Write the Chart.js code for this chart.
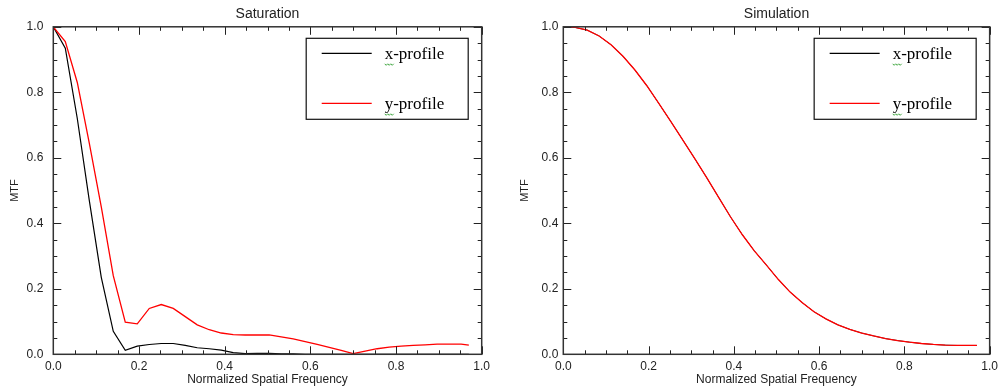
<!DOCTYPE html>
<html>
<head>
<meta charset="utf-8">
<script src="https://cdn.jsdelivr.net/npm/chart.js@4.4.1/dist/chart.umd.min.js"></script>
<style>
  html, body { margin: 0; padding: 0; background: #fff; }
  #wrap { position: relative; width: 1003px; height: 390px; }
  canvas { position: absolute; top: 0; }
  #satCanvas { left: 0; }
  #simCanvas { left: 500px; }
</style>
</head>
<body>
<div id="wrap">
  <canvas id="satCanvas" width="500" height="390"></canvas>
  <canvas id="simCanvas" width="503" height="390"></canvas>
</div>
<script>
// normalized spatial frequency (sample positions)
const freq = [0, 0.028, 0.056, 0.084, 0.112, 0.14, 0.168, 0.196, 0.224, 0.252,
  0.28, 0.308, 0.336, 0.364, 0.392, 0.42, 0.448, 0.476, 0.504, 0.532,
  0.56, 0.588, 0.616, 0.644, 0.672, 0.7, 0.728, 0.756, 0.784, 0.812,
  0.84, 0.868, 0.896, 0.924, 0.952, 0.97];

// Saturation panel
const satXProfile = [1.0, 0.935, 0.72, 0.47, 0.235, 0.07, 0.012, 0.025, 0.03, 0.033,
  0.033, 0.027, 0.02, 0.017, 0.013, 0.005, 0.002, 0.003, 0.003, 0.001,
  0.001, 0, 0, 0, 0, 0, 0, 0, 0, 0,
  0, 0, 0, 0, 0, 0];
const satYProfile = [1.0, 0.955, 0.83, 0.645, 0.45, 0.24, 0.098, 0.093, 0.14, 0.152,
  0.14, 0.115, 0.09, 0.075, 0.065, 0.06, 0.059, 0.059, 0.059, 0.053,
  0.047, 0.039, 0.03, 0.021, 0.012, 0.002, 0.01, 0.017, 0.022, 0.025,
  0.027, 0.029, 0.031, 0.031, 0.031, 0.028];

// Simulation panel (x-profile lies under the y-profile)
const simXProfile = [1.0, 0.998, 0.99, 0.972, 0.945, 0.91, 0.868, 0.82, 0.766, 0.711,
  0.655, 0.598, 0.54, 0.48, 0.42, 0.365, 0.316, 0.273, 0.229, 0.19,
  0.158, 0.13, 0.108, 0.09, 0.076, 0.065, 0.056, 0.048, 0.042, 0.037,
  0.033, 0.03, 0.028, 0.027, 0.027, 0.027];
const simYProfile = [1.0, 0.998, 0.99, 0.972, 0.945, 0.91, 0.868, 0.82, 0.766, 0.711,
  0.655, 0.598, 0.54, 0.48, 0.42, 0.365, 0.316, 0.273, 0.229, 0.19,
  0.158, 0.13, 0.108, 0.09, 0.076, 0.065, 0.056, 0.048, 0.042, 0.037,
  0.033, 0.03, 0.028, 0.027, 0.027, 0.027];

const seriesNames = ["x-profile", "y-profile"];
const seriesColors = ["#000000", "#ff0000"];
const axisFont = "'Liberation Sans', Arial, sans-serif";

const isMajor = (v) => Math.abs(v * 5 - Math.round(v * 5)) < 1e-6;
const tickLabel = (v) => isMajor(v) ? v.toFixed(1) : "";

// box round the plot with IDL style inward ticks on all four sides
const frameTicks = {
  id: "frameTicks",
  afterDatasetsDraw(chart) {
    const { ctx, chartArea: a, scales: { x, y } } = chart;
    ctx.save();
    ctx.strokeStyle = "#222";
    ctx.lineWidth = 1;
    ctx.beginPath();
    x.ticks.forEach((t) => {
      const px = Math.round(x.getPixelForValue(t.value)) + 0.5;
      const len = isMajor(t.value) ? 8 : 4;
      ctx.moveTo(px, a.bottom); ctx.lineTo(px, a.bottom - len);
      ctx.moveTo(px, a.top); ctx.lineTo(px, a.top + len);
    });
    y.ticks.forEach((t) => {
      const py = Math.round(y.getPixelForValue(t.value)) + 0.5;
      const len = isMajor(t.value) ? 8 : 4;
      ctx.moveTo(a.left, py); ctx.lineTo(a.left + len, py);
      ctx.moveTo(a.right, py); ctx.lineTo(a.right - len, py);
    });
    ctx.stroke();
    ctx.lineWidth = 1.5;
    ctx.strokeStyle = "#333";
    ctx.strokeRect(a.left, a.top, a.right - a.left, a.bottom - a.top);
    ctx.restore();
  }
};

// framed legend inside the upper right corner, serif text
const boxLegend = {
  id: "boxLegend",
  afterDraw(chart) {
    const { ctx, chartArea: a } = chart;
    const w = 162, h = 81;
    const bx = a.right - 14 - w, by = a.top + 11;
    ctx.save();
    ctx.fillStyle = "#fff";
    ctx.fillRect(bx, by, w, h);
    ctx.strokeStyle = "#111";
    ctx.lineWidth = 1.2;
    ctx.strokeRect(bx + 0.5, by + 0.5, w, h);
    ctx.font = "17px 'Liberation Serif', 'Times New Roman', serif";
    ctx.textBaseline = "alphabetic";
    chart.data.datasets.slice().reverse().forEach((ds, i) => {
      const ly = by + 15 + i * 50;
      ctx.strokeStyle = ds.borderColor;
      ctx.lineWidth = 1.2;
      ctx.beginPath();
      ctx.moveTo(bx + 16, ly + 0.5);
      ctx.lineTo(bx + 66, ly + 0.5);
      ctx.stroke();
      ctx.fillStyle = "#000";
      ctx.fillText(ds.label, bx + 79, ly + 6);
      // green spell-check squiggle under the first letter
      ctx.strokeStyle = "#2e9e2e";
      ctx.lineWidth = 0.9;
      ctx.beginPath();
      for (let k = 0; k <= 6; k++) {
        const sx = bx + 79 + k * 1.5;
        const sy = ly + 11 + (k % 2 ? 1.5 : 0);
        if (k === 0) ctx.moveTo(sx, sy); else ctx.lineTo(sx, sy);
      }
      ctx.stroke();
    });
    ctx.restore();
  }
};

function makePanel(canvasId, title, xVals, yVals, opts) {
  const ctx = document.getElementById(canvasId).getContext("2d");
  const pts = (vals) => freq.map((f, i) => ({ x: f, y: vals[i] }));
  return new Chart(ctx, {
    type: "line",
    data: {
      datasets: [
        { label: seriesNames[1], data: pts(yVals), borderColor: seriesColors[1], borderWidth: 1.3, order: 0 },
        { label: seriesNames[0], data: pts(xVals), borderColor: seriesColors[0], borderWidth: opts.blackWidth, order: 1 }
      ]
    },
    options: {
      responsive: false,
      animation: false,
      devicePixelRatio: 1,
      layout: { padding: { left: 0, right: opts.rightPad, top: 0, bottom: 0 } },
      elements: {
        line: { tension: 0, fill: false },
        point: { radius: 0 }
      },
      plugins: {
        legend: { display: false },
        tooltip: { enabled: false },
        title: {
          display: true,
          text: title,
          fullSize: false,
          color: "#222",
          font: { family: axisFont, size: 14, weight: "normal" },
          padding: { top: 6, bottom: 4 }
        }
      },
      scales: {
        x: {
          type: "linear",
          min: 0, max: 1,
          afterFit: (s) => { s.height = 35.7; },
          afterBuildTicks: (s) => { s.ticks = Array.from({ length: 21 }, (_, i) => ({ value: i / 20 })); },
          grid: { display: false, drawTicks: false },
          border: { display: false },
          ticks: {
            autoSkip: false, maxRotation: 0, padding: 5,
            color: "#222", font: { family: axisFont, size: 12 },
            callback: tickLabel
          },
          title: {
            display: true, text: "Normalized Spatial Frequency", color: "#222",
            font: { family: axisFont, size: 12 }, padding: { top: 0, bottom: 2.8 }
          }
        },
        y: {
          min: 0, max: 1,
          afterFit: (s) => { s.width = opts.yWidth; },
          afterBuildTicks: (s) => { s.ticks = Array.from({ length: 21 }, (_, i) => ({ value: i / 20 })); },
          grid: { display: false, drawTicks: false },
          border: { display: false },
          ticks: {
            autoSkip: false, padding: opts.labelPad,
            color: "#222", font: { family: axisFont, size: 12 },
            callback: tickLabel
          },
          title: {
            display: true, text: "MTF", color: "#222",
            font: { family: axisFont, size: 11 }, padding: { top: opts.titlePad, bottom: 0 }
          }
        }
      }
    },
    plugins: [frameTicks, boxLegend]
  });
}

makePanel("satCanvas", "Saturation", satXProfile, satYProfile,
  { rightPad: 18.3, yWidth: 53.3, labelPad: 10, titlePad: 8.4, blackWidth: 1.2 });
makePanel("simCanvas", "Simulation", simXProfile, simYProfile,
  { rightPad: 12, yWidth: 63.3, labelPad: 5, titlePad: 18.4, blackWidth: 0.8 });
</script>
</body>
</html>
